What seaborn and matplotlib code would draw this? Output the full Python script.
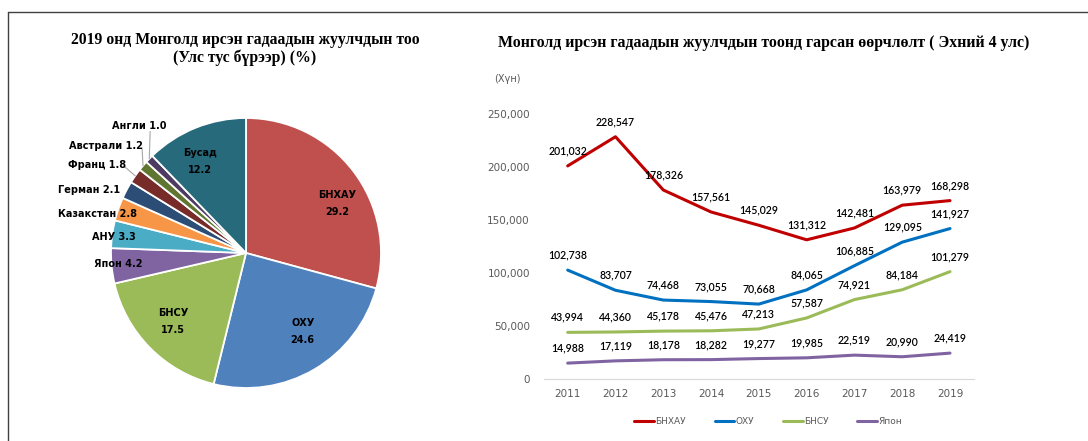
import numpy as np
import pandas as pd
import seaborn as sns
import matplotlib.pyplot as plt
from matplotlib.lines import Line2D

# Pie data (2019, % by country)
pie_labels = ["БНХАУ", "ОХУ", "БНСУ", "Япон", "АНУ", "Казакстан", "Герман",
              "Франц", "Австрали", "Англи", "Бусад"]
pie_values = [29.2, 24.6, 17.5, 4.2, 3.3, 2.8, 2.1, 1.8, 1.2, 1.0, 12.2]

# Line data (tourists, persons)
years = [2011, 2012, 2013, 2014, 2015, 2016, 2017, 2018, 2019]
china = [201032, 228547, 178326, 157561, 145029, 131312, 142481, 163979, 168298]
russia = [102738, 83707, 74468, 73055, 70668, 84065, 106885, 129095, 141927]
korea = [43994, 44360, 45178, 45476, 47213, 57587, 74921, 84184, 101279]
japan = [14988, 17119, 18178, 18282, 19277, 19985, 22519, 20990, 24419]
series_names = ["БНХАУ", "ОХУ", "БНСУ", "Япон"]

sns.set_style("white")
plt.rcParams['font.family'] = ['DejaVu Sans']

W, H = 1088, 441
fig = plt.figure(figsize=(W / 100, H / 100), dpi=100)

# ---------------- pie ----------------
pie_colors = ["#C0504D", "#4F81BD", "#9BBB59", "#8064A2", "#4BACC6", "#F79646",
              "#2C4D75", "#772C2A", "#5F7530", "#4D3B62", "#276A7C"]
cx, cy, R = 246, 253, 135
half = 150
ax1 = fig.add_axes([(cx - half) / W, (H - cy - half) / H, 2 * half / W, 2 * half / H])
ax1.pie(pie_values, colors=pie_colors, startangle=90, counterclock=False,
        wedgeprops=dict(edgecolor="white", linewidth=1.3))
lim = half / R
ax1.set_xlim(-lim, lim)
ax1.set_ylim(-lim, lim)
ax1.set_aspect("equal")
ax1.axis("off")

# label positions in pie-radius units
inside = {"БНХАУ": (0.674, 0.367), "ОХУ": (0.42, -0.58),
          "БНСУ": (-0.54, -0.51), "Бусад": (-0.34, 0.68)}
outside = {"Япон": (-0.95, -0.08), "АНУ": (-0.98, 0.12), "Казакстан": (-1.10, 0.29),
           "Герман": (-1.16, 0.47), "Франц": (-1.10, 0.65), "Австрали": (-1.04, 0.79),
           "Англи": (-0.79, 0.94)}
lbl_font = dict(fontsize=7, color="black", fontweight="bold",
                family=["DejaVu Sans"])
for name, val in zip(pie_labels, pie_values):
    if name in inside:
        x, y = inside[name]
        ax1.text(x, y, f"{name}\n{val:.1f}", ha="center", va="center",
                 linespacing=1.9, clip_on=False, **lbl_font)
    else:
        x, y = outside[name]
        ax1.text(x, y, f"{name} {val:.1f}", ha="center", va="center",
                 clip_on=False, **lbl_font)

# leader lines for the smallest slices
total = sum(pie_values)
cum = np.cumsum([0] + pie_values[:-1])
leader_start = {"Франц": (-0.90, 0.64), "Австрали": (-0.77, 0.78), "Англи": (-0.71, 0.90)}
for name, (sx, sy) in leader_start.items():
    i = pie_labels.index(name)
    ang = np.deg2rad(90 - 360 * (cum[i] + pie_values[i] / 2) / total)
    ex, ey = np.cos(ang), np.sin(ang)
    ax1.plot([sx, ex], [sy, ey], color="#A6A6A6", lw=0.8, clip_on=False)

fig.text(245 / W, 1 - 49 / H, "2019 онд Монголд ирсэн гадаадын жуулчдын тоо\n(Улс тус бүрээр) (%)",
         ha="center", va="center", fontsize=11.3, fontweight="bold", color="black",
         family=["Liberation Serif"], linespacing=1.1)

# ---------------- line chart ----------------
line_colors = ["#C00000", "#0070C0", "#9BBB59", "#8064A2"]
df = pd.DataFrame({
    "year": years * 4,
    "value": china + russia + korea + japan,
    "country": [n for n in series_names for _ in years],
})
x_left, x_right = 543.8, 973.9
y_top, y_bot = 114, 379
ax2 = fig.add_axes([x_left / W, (H - y_bot) / H, (x_right - x_left) / W, (y_bot - y_top) / H])
sns.lineplot(data=df, x="year", y="value", hue="country", palette=line_colors,
             linewidth=2.2, ax=ax2, legend=False)
ax2.set_xlim(2010.5, 2019.5)
ax2.set_ylim(0, 250000)
ax2.set_xticks(years)
ax2.set_yticks(range(0, 250001, 50000))
ax2.set_yticklabels([f"{v:,}" for v in range(0, 250001, 50000)])
ax2.set_xlabel("")
ax2.set_ylabel("")
ax2.tick_params(axis="both", length=0, labelsize=7.5, labelcolor="#595959")
ax2.tick_params(axis="y", pad=10)
ax2.tick_params(axis="x", pad=7)
for s in ["top", "right", "left"]:
    ax2.spines[s].set_visible(False)
ax2.spines["bottom"].set_color("#D9D9D9")
ax2.patch.set_alpha(0)

for vals in [china, russia, korea, japan]:
    for x, v in zip(years, vals):
        ax2.annotate(f"{v:,}", (x, v), xytext=(0, 10.8), textcoords="offset points",
                     ha="center", va="center", fontsize=7.6, color="black",
                     family=["Lato", "DejaVu Sans"], fontweight="semibold")

fig.text(494 / W, 1 - 79 / H, "(Хүн)", ha="left", va="center", fontsize=7,
         color="#595959")
fig.text(764 / W, 1 - 43 / H, "Монголд ирсэн гадаадын жуулчдын тоонд гарсан өөрчлөлт ( Эхний 4 улс)",
         ha="center", va="center", fontsize=11.4, fontweight="bold", color="black",
         family=["Liberation Serif"])

handles = [Line2D([], [], color=c, lw=2.2) for c in line_colors]
fig.legend(handles, series_names, loc="center", bbox_to_anchor=(768 / W, 1 - 422 / H),
           ncol=4, frameon=False, fontsize=6.5, handlelength=2.2, handletextpad=0.1,
           columnspacing=3.2, labelcolor="#595959")

# frame lines
fig.add_artist(Line2D([8 / W, 1], [1 - 12 / H, 1 - 12 / H], color="#404040", lw=1))
fig.add_artist(Line2D([8 / W, 8 / W], [0, 1 - 12 / H], color="#404040", lw=1))

fig.savefig("out.png", dpi=100)
